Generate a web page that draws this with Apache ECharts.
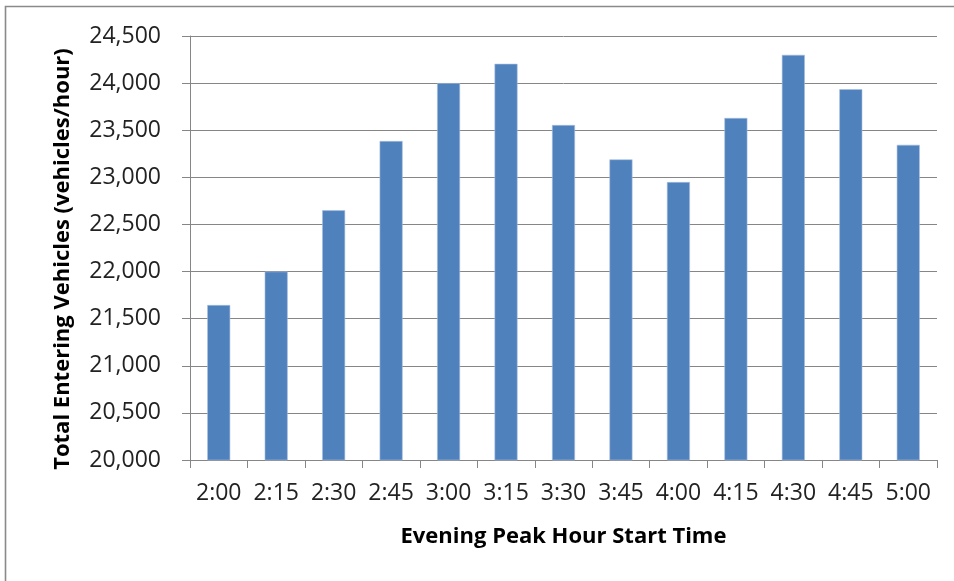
<!DOCTYPE html>
<html>
<head>
<meta charset="utf-8">
<script src="https://cdn.jsdelivr.net/npm/echarts@6/dist/echarts.min.js"></script>
<style>html,body{margin:0;padding:0;background:#fff}#c{width:954px;height:581px}</style>
</head>
<body>
<div id="c"></div>
<script>
const categories = ['2:00','2:15','2:30','2:45','3:00','3:15','3:30','3:45','4:00','4:15','4:30','4:45','5:00'];
const vehicles = [21645, 22000, 22650, 23385, 24000, 24205, 23555, 23190, 22950, 23630, 24300, 23935, 23345];
const yTicks = {min: 20000, max: 24500, interval: 500};
const xTitle = 'Evening Peak Hour Start Time';
const yTitle = 'Total Entering Vehicles (vehicles/hour)';

const chart = echarts.init(document.getElementById('c'), null, {renderer: 'canvas'});
const font = '"Open Sans", sans-serif';
chart.setOption({
  animation: false,
  backgroundColor: '#fff',
  graphic: [{
    type: 'rect', silent: true,
    shape: {x: 5.5, y: 6.5, width: 1200, height: 1200},
    style: {fill: 'none', stroke: '#8a8a8a', lineWidth: 1.6}
  }],
  grid: {left: 190, right: 17, top: 36, bottom: 121, containLabel: false},
  xAxis: {
    type: 'category',
    data: categories,
    name: xTitle,
    nameLocation: 'middle',
    nameGap: 66,
    nameTextStyle: {fontFamily: font, fontWeight: 'bold', fontSize: 22, color: '#000'},
    axisLine: {show: true, lineStyle: {color: '#868686', width: 1}},
    axisTick: {show: true, alignWithLabel: false, length: 8, lineStyle: {color: '#868686'}},
    axisLabel: {fontFamily: font, fontSize: 23, color: '#222', margin: 22, interval: 0},
    splitLine: {show: false}
  },
  yAxis: {
    type: 'value',
    min: yTicks.min, max: yTicks.max, interval: yTicks.interval,
    name: yTitle,
    nameLocation: 'middle',
    nameGap: 116,
    nameRotate: 90,
    nameTextStyle: {fontFamily: font, fontWeight: 'bold', fontSize: 22, color: '#000', padding: [0, 22, 0, 0]},
    axisLine: {show: true, lineStyle: {color: '#868686', width: 1}},
    axisTick: {show: true, length: 8, lineStyle: {color: '#868686'}},
    axisLabel: {
      fontFamily: font, fontSize: 23, color: '#222', margin: 29,
      formatter: v => v.toLocaleString('en-US')
    },
    splitLine: {show: true, lineStyle: {color: '#868686', width: 1}}
  },
  series: [{
    type: 'bar',
    data: vehicles,
    barWidth: 23,
    itemStyle: {color: '#4F81BD', borderColor: '#A9BFDF', borderWidth: 0.6}
  }]
});
</script>
</body>
</html>
